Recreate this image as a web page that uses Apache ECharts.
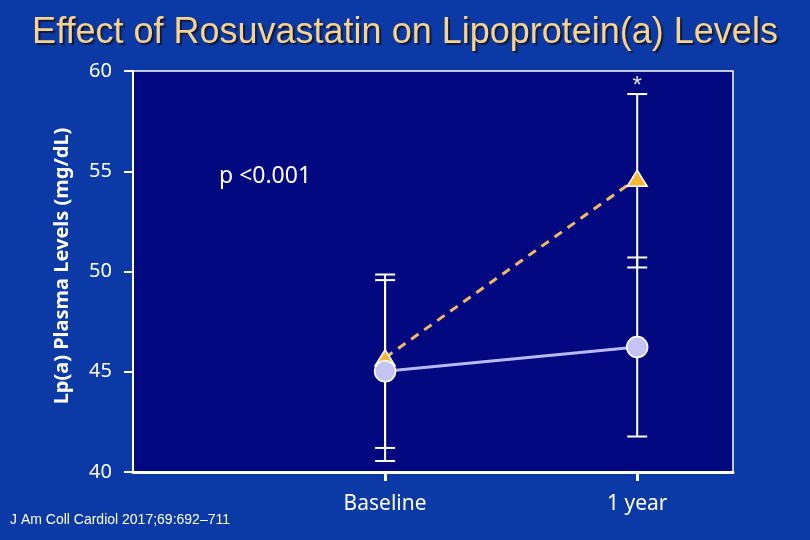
<!DOCTYPE html>
<html>
<head>
<meta charset="utf-8">
<script src="https://cdn.jsdelivr.net/npm/echarts@6/dist/echarts.min.js"></script>
<style>
  html, body { margin: 0; padding: 0; background: #0b3aa6; }
  #chart { width: 810px; height: 540px; }
</style>
</head>
<body>
<div id="chart"></div>
<script>
// x positions: Baseline = 1, 1 year = 2
var xLabels = {1: 'Baseline', 2: '1 year'};
var xPos = [1, 2];

// rosuvastatin arm (triangle, dashed)
var triMean = [45.7, 54.65];
var triLow = [41.2, 50.2];
var triHigh = [49.85, 58.85];
var triNote = ['', '*'];

// comparison arm (circle, solid)
var cirMean = [45.02, 46.23];
var cirLow = [40.55, 41.77];
var cirHigh = [49.57, 50.7];

var chart = echarts.init(document.getElementById('chart'));

function pairs(ys) {
    return xPos.map(function (x, i) { return [x, ys[i]]; });
}

function barData(low, high, notes) {
    return xPos.map(function (x, i) { return [x, low[i], high[i], notes ? notes[i] : '']; });
}

function renderBar(params, api) {
    var x = api.value(0);
    var lo = api.coord([x, api.value(1)]);
    var hi = api.coord([x, api.value(2)]);
    var half = 10;
    var style = {stroke: '#ffffff', lineWidth: 2};
    var children = [
        {type: 'line', shape: {x1: lo[0], y1: lo[1], x2: hi[0], y2: hi[1]}, style: style},
        {type: 'line', shape: {x1: lo[0] - half, y1: lo[1], x2: lo[0] + half, y2: lo[1]}, style: style},
        {type: 'line', shape: {x1: hi[0] - half, y1: hi[1], x2: hi[0] + half, y2: hi[1]}, style: style}
    ];
    var note = api.value(3);
    if (note) {
        children.push({
            type: 'text',
            style: {
                x: hi[0], y: hi[1] + 4, text: note, fill: '#e8e8f4',
                fontSize: 24, fontFamily: 'Liberation Sans',
                textAlign: 'center', textVerticalAlign: 'bottom'
            }
        });
    }
    return {type: 'group', children: children};
}

chart.setOption({
    backgroundColor: '#0b3aa6',
    animation: false,
    title: {
        text: 'Effect of Rosuvastatin on Lipoprotein(a) Levels',
        left: 'center',
        top: 10,
        textStyle: {
            color: '#f6d38e',
            fontFamily: 'Liberation Sans',
            fontWeight: 'normal',
            fontSize: 36,
            textShadowColor: 'rgba(20,20,40,0.85)',
            textShadowOffsetX: 2,
            textShadowOffsetY: 2,
            textShadowBlur: 1
        }
    },
    graphic: [{
        type: 'text',
        left: 219,
        top: 165,
        style: {text: 'p <0.001', fill: '#ffffff', fontSize: 23, fontFamily: 'Noto Sans'}
    }, {
        type: 'text',
        x: 62,
        y: 266,
        rotation: Math.PI / 2,
        style: {
            text: 'Lp(a) Plasma Levels (mg/dL)', fill: '#ffffff',
            fontSize: 20, fontWeight: 'bold', fontFamily: 'Noto Sans',
            textAlign: 'center', textVerticalAlign: 'middle'
        }
    }, {
        type: 'text',
        left: 10,
        top: 513,
        style: {text: 'J Am Coll Cardiol 2017;69:692\u2013711', fill: '#ffffff', fontSize: 14, fontFamily: 'Liberation Sans'}
    }],
    grid: {
        left: 133,
        right: 77,
        top: 71,
        bottom: 68,
        show: true,
        backgroundColor: '#02087f',
        borderColor: '#ffffff',
        borderWidth: 1.5
    },
    xAxis: {
        type: 'value',
        min: 0,
        max: 2.38,
        splitLine: {show: false},
        axisLine: {lineStyle: {color: '#ffffff', width: 3}},
        axisTick: {customValues: [1, 2], length: 9, lineStyle: {color: '#ffffff', width: 3}},
        axisLabel: {
            customValues: [1, 2],
            formatter: function (v) { return xLabels[v] || ''; },
            color: '#ffffff',
            fontSize: 21,
            fontFamily: 'Noto Sans',
            margin: 22
        }
    },
    yAxis: {
        type: 'value',
        min: 40,
        max: 60,
        interval: 5,
        splitLine: {show: false},
        axisLine: {show: true, lineStyle: {color: '#ffffff', width: 2}},
        axisTick: {show: true, length: 9, lineStyle: {color: '#ffffff', width: 2}},
        axisLabel: {color: '#ffffff', fontSize: 20, fontFamily: 'Noto Sans', margin: 21}
    },
    series: [{
        type: 'custom',
        name: 'bars-tri',
        renderItem: renderBar,
        data: barData(triLow, triHigh, triNote),
        z: 1
    }, {
        type: 'custom',
        name: 'bars-cir',
        renderItem: renderBar,
        data: barData(cirLow, cirHigh),
        z: 1
    }, {
        type: 'line',
        name: 'Rosuvastatin',
        data: pairs(triMean),
        symbol: 'triangle',
        symbolSize: [20, 16],
        lineStyle: {color: '#f2b864', width: 3, type: [9, 7]},
        itemStyle: {color: '#f9b833', borderColor: '#ffffff', borderWidth: 1.5},
        z: 2
    }, {
        type: 'line',
        name: 'Comparison',
        data: pairs(cirMean),
        symbol: 'circle',
        symbolSize: 21,
        lineStyle: {color: '#b9b9f2', width: 3},
        itemStyle: {color: '#c4c4f4', borderColor: '#ffffff', borderWidth: 1.5},
        z: 3
    }]
});
</script>
</body>
</html>
